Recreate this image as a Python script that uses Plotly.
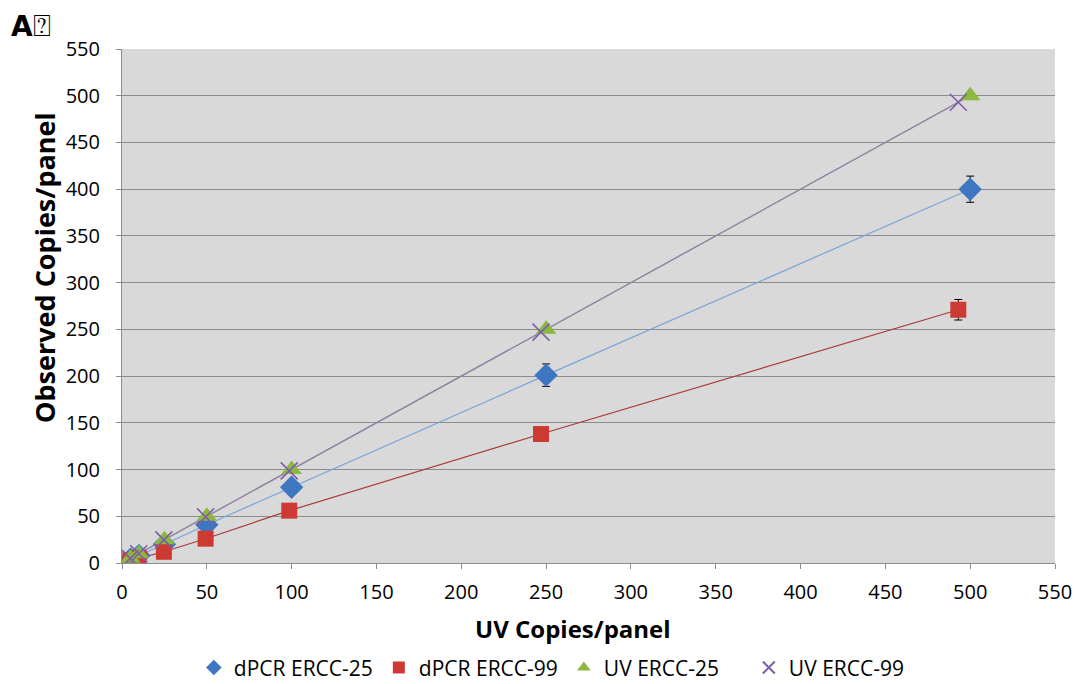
import plotly.graph_objects as go

# Data
uv25_x = [5, 10, 25, 50, 100, 250, 500]
uv25_y = [5, 10, 25, 50, 100, 250, 500]
uv99_x = [4.9, 9.9, 24.7, 49.3, 98.6, 247, 493]
uv99_y = [4.9, 9.9, 24.7, 49.3, 98.6, 247, 493]
dpcr25_x = [5, 10, 25, 50, 100, 250, 500]
dpcr25_y = [4, 8, 20, 41, 81, 201, 400]
dpcr25_err = [0.5, 1, 1.5, 2, 3, 12, 14]
dpcr99_x = [4.9, 9.9, 24.7, 49.3, 98.6, 247, 493]
dpcr99_y = [3, 5, 12, 26, 56, 138, 271]
dpcr99_err = [0.5, 0.8, 1, 1.5, 2, 3, 11]

x_ticks = list(range(0, 551, 50))
y_ticks = list(range(0, 551, 50))

FONT = "Open Sans"

fig = go.Figure()

# trend lines (connect points)
fig.add_trace(go.Scatter(x=uv25_x, y=uv25_y, mode="lines", line=dict(color="#8c8c8c", width=1.2),
                         showlegend=False, hoverinfo="skip"))
fig.add_trace(go.Scatter(x=uv99_x, y=uv99_y, mode="lines", line=dict(color="#9585a8", width=1.2),
                         showlegend=False, hoverinfo="skip"))
fig.add_trace(go.Scatter(x=dpcr25_x, y=dpcr25_y, mode="lines", line=dict(color="#7aa3d8", width=1.2),
                         showlegend=False, hoverinfo="skip"))
fig.add_trace(go.Scatter(x=dpcr99_x, y=dpcr99_y, mode="lines", line=dict(color="#a83a3a", width=1.2),
                         showlegend=False, hoverinfo="skip"))

fig.add_trace(go.Scatter(
    x=dpcr25_x, y=dpcr25_y, mode="markers", name="dPCR ERCC-25",
    marker=dict(symbol="diamond", size=18, color="#3f76c2", line=dict(width=0)),
    error_y=dict(type="data", array=dpcr25_err, color="black", thickness=1, width=4)))
fig.add_trace(go.Scatter(
    x=dpcr99_x, y=dpcr99_y, mode="markers", name="dPCR ERCC-99",
    marker=dict(symbol="square", size=16, color="#cc3a33", line=dict(width=0)),
    error_y=dict(type="data", array=dpcr99_err, color="black", thickness=1, width=4)))
fig.add_trace(go.Scatter(
    x=uv25_x, y=uv25_y, mode="markers", name="UV ERCC-25",
    marker=dict(symbol="triangle-up", size=18, color="#8db83e", line=dict(width=0))))
fig.add_trace(go.Scatter(
    x=uv99_x, y=uv99_y, mode="markers", name="UV ERCC-99",
    marker=dict(symbol="x-thin-open", size=17, color="#7d5fa6", line=dict(width=1.6, color="#7d5fa6"))))

fig.update_layout(
    width=1085, height=684,
    margin=dict(l=122, r=30, t=49, b=121, autoexpand=False),
    paper_bgcolor="white",
    plot_bgcolor="#d9d9d9",
    font=dict(family=FONT, size=20, color="black"),
    showlegend=True,
    legend=dict(orientation="h", x=0.077, xanchor="left", y=-0.204, yanchor="middle",
                font=dict(family=FONT, size=21), itemsizing="constant", itemwidth=30,
                entrywidth=140, entrywidthmode="pixels", tracegroupgap=0),
    xaxis=dict(range=[0, 550], tickvals=x_ticks, showgrid=False, zeroline=False,
               showline=True, linecolor="#8c8c8c", linewidth=1, automargin=False,
               ticks="outside", ticklen=5, tickcolor="#8c8c8c",
               tickfont=dict(family=FONT, size=20), ticklabelstandoff=6),
    yaxis=dict(range=[0, 550], tickvals=y_ticks, showgrid=True, gridcolor="#8c8c8c", gridwidth=1,
               zeroline=False, showline=True, linecolor="#8c8c8c", linewidth=1, automargin=False,
               ticks="outside", ticklen=5, tickcolor="#8c8c8c",
               tickfont=dict(family=FONT, size=20), ticklabelstandoff=12),
    annotations=[
        dict(text="<b>A</b><span style='font-size:30px'>⍰</span>", xref="paper", yref="paper",
             x=-0.121, y=1.045, xanchor="left", yanchor="middle", showarrow=False,
             font=dict(family="DejaVu Sans", size=28, color="black")),
        dict(text="<b>UV Copies/panel</b>", xref="paper", yref="paper",
             x=0.483, y=-0.1265, xanchor="center", yanchor="middle", showarrow=False,
             font=dict(family=FONT, size=24, color="black")),
        dict(text="<b>Observed Copies/panel</b>", xref="paper", yref="paper", textangle=-90,
             x=-0.0825, y=0.574, xanchor="center", yanchor="middle", showarrow=False,
             font=dict(family=FONT, size=27, color="black")),
    ],
)

fig.write_html("out.html", config={"displayModeBar": False},
               post_script="document.body.style.margin='0';document.body.style.padding='0';")
